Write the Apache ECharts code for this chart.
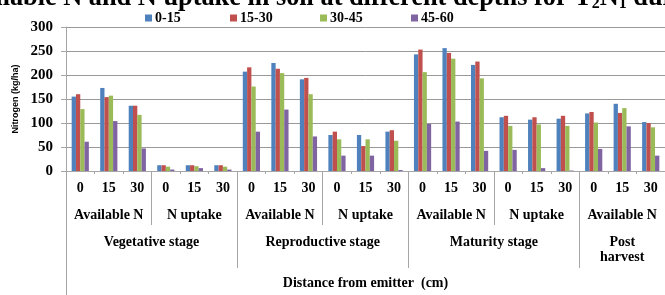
<!DOCTYPE html>
<html>
<head>
<meta charset="utf-8">
<script src="https://cdn.jsdelivr.net/npm/echarts@6/dist/echarts.min.js"></script>
<style>
  html, body { margin: 0; padding: 0; background: #fff; }
  #chart { width: 665px; height: 295px; }
</style>
</head>
<body>
<div id="chart"></div>
<script>
// distance from emitter (cm), one per bar group
var distances = ['0','15','30', '0','15','30', '0','15','30', '0','15','30', '0','15','30', '0','15','30', '0','15','30'];
var subGroups = ['Available N', 'N uptake', 'Available N', 'N uptake', 'Available N', 'N uptake', 'Available N'];
var stages = ['Vegetative stage', 'Reproductive stage', 'Maturity stage', 'Post\nharvest'];
var depthNames = ['0-15', '15-30', '30-45', '45-60'];
var yTicks = [0, 50, 100, 150, 200, 250, 300];

// soil depth series (kg/ha)
var d0_15  = [155, 173, 136, 12, 12, 12, 207, 225, 191, 75, 75, 82, 243, 256, 221, 112, 107, 109, 120, 140, 102];
var d15_30 = [160, 154, 136, 12, 12, 12, 216, 213, 194, 82, 52, 85, 253, 246, 228, 115, 112, 115, 123, 121, 100];
var d30_45 = [129, 157, 117, 9, 10, 9, 176, 204, 160, 66, 66, 63, 206, 234, 193, 94, 97, 94, 101, 131, 91];
var d45_60 = [61, 104, 47, 3, 6, 3, 82, 128, 72, 32, 32, 2, 98, 103, 42, 44, 6, 1, 46, 93, 32];

var colors = ['#4F81BD', '#C0504D', '#9BBB59', '#8064A2'];
var serif = 'Liberation Serif';
var legendLefts = [140, 225, 315, 406];

var myChart = echarts.init(document.getElementById('chart'));

// positions of group labels / separators on a 0..21 value scale
var n = distances.length;
var subCenters = [], subSeps = [];
for (var i = 0; i < subGroups.length; i++) {
    subCenters.push(i * 3 + 1.5);
    if (i > 0 && i % 2 == 1) subSeps.push(i * 3);
}
var stageCenters = [3, 9, 15, 19.5];
var stageSeps = [6, 12, 18];

function bars(name, data) {
    return {
        name: name,
        type: 'bar',
        data: data,
        barWidth: 4.3,
        barGap: '0%',
        xAxisIndex: 0
    };
}

// one legend per item so the slots are evenly spread like the original
var legends = [];
for (var k = 0; k < depthNames.length; k++) {
    legends.push({
        data: [depthNames[k]],
        left: legendLefts[k],
        top: 6,
        itemWidth: 7,
        itemHeight: 7,
        icon: 'rect',
        textStyle: { fontFamily: serif, fontWeight: 'bold', fontSize: 14, color: '#000', padding: [0, 0, 0, -2] }
    });
}

var option = {
    animation: false,
    color: colors,
    title: {
        text: '{t|Available N and N uptake in soil at different depths for T}{s|2}{t|N}{s|1}{t| during crop growth}',
        left: -53,
        top: -21,
        textStyle: {
            rich: {
                t: { fontFamily: serif, fontWeight: 'bold', fontSize: 26.3, color: '#000' },
                s: { fontFamily: serif, fontWeight: 'bold', fontSize: 16, color: '#000', verticalAlign: 'bottom', padding: [12, 0, 0, 0] }
            }
        }
    },
    legend: legends,
    grid: {
        left: 66,
        top: 27,
        width: 605,
        height: 144
    },
    xAxis: [
        {
            type: 'category',
            data: distances,
            axisLine: { lineStyle: { color: '#a6a6a6' } },
            axisTick: { show: true, interval: 0, length: 3, lineStyle: { color: '#a6a6a6' } },
            axisLabel: { interval: 0, margin: 10, fontFamily: serif, fontWeight: 'bold', fontSize: 14, color: '#000' }
        },
        {
            type: 'value',
            min: 0,
            max: n,
            position: 'bottom',
            splitLine: { show: false },
            axisLine: { show: false },
            axisTick: { show: true, customValues: subSeps, length: 54, lineStyle: { color: '#a6a6a6' } },
            axisLabel: {
                customValues: subCenters,
                margin: 37,
                fontFamily: serif, fontWeight: 'bold', fontSize: 14, color: '#000',
                formatter: function (v) { return subGroups[Math.floor(v / 3)]; }
            }
        },
        {
            type: 'value',
            min: 0,
            max: n,
            position: 'bottom',
            splitLine: { show: false },
            axisLine: { show: false },
            axisTick: { show: true, customValues: stageSeps, length: 97, lineStyle: { color: '#a6a6a6' } },
            axisLabel: {
                customValues: stageCenters,
                margin: 64,
                lineHeight: 15,
                fontFamily: serif, fontWeight: 'bold', fontSize: 14, color: '#000',
                formatter: function (v) { return stages[stageCenters.indexOf(v)]; }
            },
            name: 'Distance from emitter  (cm)',
            nameLocation: 'middle',
            nameGap: 105,
            nameTextStyle: { fontFamily: serif, fontWeight: 'bold', fontSize: 14, color: '#000' }
        },
        {
            type: 'value',
            min: 0,
            max: n,
            position: 'bottom',
            splitLine: { show: false },
            axisLine: { show: false },
            axisTick: { show: true, customValues: [0], length: 130, lineStyle: { color: '#a6a6a6' } },
            axisLabel: { show: false }
        }
    ],
    yAxis: {
        type: 'value',
        min: yTicks[0],
        max: yTicks[yTicks.length - 1],
        interval: 50,
        name: 'Nitrogen (kg/ha)',
        nameLocation: 'middle',
        nameGap: 46,
        nameTextStyle: { fontFamily: 'Liberation Sans', fontWeight: 'bold', fontSize: 9, color: '#000' },
        axisLine: { show: true, lineStyle: { color: '#a6a6a6' } },
        axisTick: { show: true, length: 5, lineStyle: { color: '#a6a6a6' } },
        axisLabel: { margin: 13, fontFamily: serif, fontWeight: 'bold', fontSize: 15, color: '#000' },
        splitLine: { lineStyle: { color: '#999999' } }
    },
    series: [
        bars(depthNames[0], d0_15),
        bars(depthNames[1], d15_30),
        bars(depthNames[2], d30_45),
        bars(depthNames[3], d45_60)
    ]
};

myChart.setOption(option);
</script>
</body>
</html>
